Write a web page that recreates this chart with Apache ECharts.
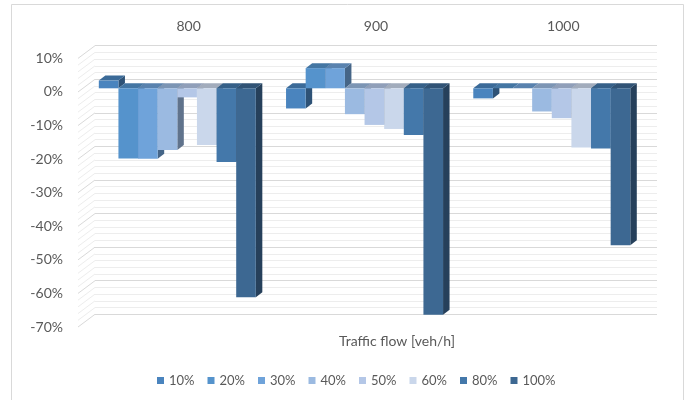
<!DOCTYPE html>
<html>
<head>
<meta charset="utf-8">
<script src="https://cdn.jsdelivr.net/npm/echarts@6/dist/echarts.min.js"></script>
<style>
  html, body { margin: 0; padding: 0; background: #fff; }
  #chart { width: 686px; height: 400px; }
</style>
</head>
<body>
<div id="chart"></div>
<script>
// Traffic flow categories and relative change (%) per share level
const categories = ['800', '900', '1000'];
const seriesNames = ['10%', '20%', '30%', '40%', '50%', '60%', '80%', '100%'];
const seriesColors = ['#4a84be', '#5593cc', '#6fa3da', '#9bbae1', '#b4c7e7', '#cad7eb', '#4478aa', '#3d6892'];

const s10  = [2.3, -6.0, -3.0];
const s20  = [-20.9, 6.0, 0];
const s30  = [-21.0, 6.0, 0];
const s40  = [-18.4, -7.7, -6.9];
const s50  = [-2.7, -10.9, -8.9];
const s60  = [-16.9, -12.1, -17.6];
const s80  = [-21.9, -13.9, -17.9];
const s100 = [-62.2, -67.4, -46.7];
const seriesValues = [s10, s20, s30, s40, s50, s60, s80, s100];

// value axis range and steps
const yMin = -70, yMax = 10, yStep = 10, yMinorStep = 2;

const textColor = '#595959';
const fontFamily = 'Lato, "Open Sans", sans-serif';

// depth projection of the 3D boxes and walls
const BAR_DX = 6.5, BAR_DY = -5;
const WALL_DX = -17, WALL_DY = 12.7;
const GROUP_FRACTION = 0.8386;

function shade(hex, f) {
  const n = parseInt(hex.slice(1), 16);
  const r = Math.round(((n >> 16) & 255) * f);
  const g = Math.round(((n >> 8) & 255) * f);
  const b = Math.round((n & 255) * f);
  return 'rgb(' + r + ',' + g + ',' + b + ')';
}

function barRenderer(idx) {
  const front = seriesColors[idx];
  const topC = shade(front, 0.8);
  const sideC = shade(front, 0.62);
  const count = seriesNames.length;
  return function (params, api) {
    const cat = api.value(0);
    const v = api.value(1);
    const base = api.coord([cat, 0]);
    const end = api.coord([cat, v]);
    const band = api.size([1, 0])[0];
    const groupW = band * GROUP_FRACTION;
    const w = groupW / count;
    const x = base[0] - groupW / 2 + idx * w;
    const yTop = Math.min(base[1], end[1]);
    const yBot = Math.max(base[1], end[1]);
    return {
      type: 'group',
      children: [
        {
          type: 'polygon',
          shape: { points: [[x + w, yTop], [x + w + BAR_DX, yTop + BAR_DY], [x + w + BAR_DX, yBot + BAR_DY], [x + w, yBot]] },
          style: { fill: sideC }
        },
        {
          type: 'polygon',
          shape: { points: [[x, yTop], [x + w, yTop], [x + w + BAR_DX, yTop + BAR_DY], [x + BAR_DX, yTop + BAR_DY]] },
          style: { fill: topC }
        },
        {
          type: 'rect',
          shape: { x: x, y: yTop, width: w, height: yBot - yTop },
          style: { fill: front }
        }
      ]
    };
  };
}

// slanted gridlines on the left side wall
function sideWallRenderer(params, api) {
  const children = [];
  const band = api.size([1, 0])[0];
  for (let v = yMin; v <= yMax + 1e-9; v += yMinorStep) {
    const p = api.coord([0, v]);
    const x0 = p[0] - band / 2;
    const major = Math.abs(v % yStep) < 1e-9;
    children.push({
      type: 'line',
      shape: { x1: x0, y1: p[1], x2: x0 + WALL_DX, y2: p[1] + WALL_DY },
      style: { stroke: major ? '#d9d9d9' : '#ededed', lineWidth: 1 }
    });
  }
  return { type: 'group', children: children };
}

const series = [
  {
    type: 'custom',
    name: 'wall',
    xAxisIndex: 1,
    yAxisIndex: 1,
    silent: true,
    data: [[0, 0]],
    renderItem: sideWallRenderer,
    z: 1
  }
];
seriesNames.forEach(function (name, i) {
  series.push({
    type: 'custom',
    name: name,
    xAxisIndex: 0,
    yAxisIndex: 0,
    itemStyle: { color: seriesColors[i] },
    encode: { x: 0, y: 1 },
    data: seriesValues[i].map(function (v, c) { return [c, v]; }),
    renderItem: barRenderer(i),
    z: 10 + i
  });
});

const chart = echarts.init(document.getElementById('chart'), null, { renderer: 'canvas' });
chart.setOption({
  animation: false,
  backgroundColor: '#ffffff',
  graphic: [
    {
      type: 'rect',
      z: 0,
      shape: { x: 11.5, y: 4.5, width: 672, height: 420 },
      style: { fill: 'none', stroke: '#d9d9d9', lineWidth: 1 }
    }
  ],
  title: {
    text: 'Traffic flow [veh/h]',
    left: 339,
    top: 334,
    padding: 0,
    textStyle: { color: textColor, fontSize: 14, fontWeight: 'normal', fontFamily: fontFamily }
  },
  legend: {
    data: seriesNames,
    icon: 'rect',
    itemWidth: 7,
    itemHeight: 7,
    itemGap: 13,
    left: 157,
    top: 374,
    padding: 0,
    textStyle: { color: textColor, fontSize: 13, fontFamily: fontFamily }
  },
  grid: [
    { left: 83.7, top: 54.7, width: 561.7, height: 268.8 },   // bar front plane
    { left: 95, top: 45.7, width: 562, height: 268.6 },       // back wall
    { left: 78, top: 58.4, width: 562, height: 268.6 }        // front label plane
  ],
  xAxis: [
    { type: 'category', gridIndex: 0, data: categories, show: false },
    {
      type: 'category', gridIndex: 1, data: categories, position: 'top',
      axisLine: { show: false }, axisTick: { show: false }, splitLine: { show: false },
      axisLabel: { color: textColor, fontSize: 14, margin: 12, fontFamily: fontFamily }
    },
    { type: 'category', gridIndex: 2, data: categories, show: false }
  ],
  yAxis: [
    { type: 'value', gridIndex: 0, min: yMin, max: yMax, interval: yStep, show: false },
    {
      type: 'value', gridIndex: 1, min: yMin, max: yMax, interval: yStep,
      axisLine: { show: false }, axisTick: { show: false }, axisLabel: { show: false },
      splitLine: { show: true, lineStyle: { color: '#d9d9d9', width: 1 } },
      minorTick: { show: false, splitNumber: yStep / yMinorStep },
      minorSplitLine: { show: true, lineStyle: { color: '#ededed', width: 1 } }
    },
    {
      type: 'value', gridIndex: 2, min: yMin, max: yMax, interval: yStep,
      axisLine: { show: false }, axisTick: { show: false }, splitLine: { show: false },
      axisLabel: { color: textColor, fontSize: 14, margin: 15, fontFamily: fontFamily, formatter: '{value}%' }
    }
  ],
  series: series
});
</script>
</body>
</html>
